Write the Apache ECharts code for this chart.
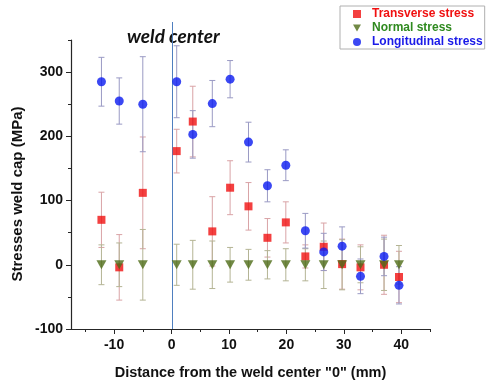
<!DOCTYPE html>
<html>
<head>
<meta charset="utf-8">
<script src="https://cdn.jsdelivr.net/npm/echarts@6/dist/echarts.min.js"></script>
<style>
  html, body { margin: 0; padding: 0; background: #fff; }
  #chart { width: 487px; height: 387px; }
</style>
</head>
<body>
<div id="chart"></div>
<script>
// distance from weld center (mm)
const xPos = [-12.2, -9.1, -5.0, 0.9, 3.7, 7.1, 10.2, 13.4, 16.7, 19.9, 23.3, 26.5, 29.7, 32.9, 37.0, 39.6];

const transverse = [70, -4, 112, 177, 223, 52, 120, 91, 42, 66, 13, 28, 1, -4, 0, -19];
const transverseErr = [43, 51, 87, 34, 55, 54, 42, 37, 30, 32, 18, 37, 39, 35, 46, 40];

const normal = [0, 0, 0, 0, 0, 0, 0, 0, 0, 0, 0, 0, 0, 0, 0, 0];
const normalErr = [31, 34, 55, 32, 38, 37, 27, 24, 22, 25, 25, 37, 39, 28, 40, 30];

const longitudinal = [285, 255, 250, 285, 203, 251, 289, 191, 123, 155, 53, 20, 29, -18, 13, -32];
const longitudinalErr = [38, 36, 74, 56, 37, 36, 29, 31, 25, 24, 27, 29, 30, 27, 30, 29];

const xMajor = [-10, 0, 10, 20, 30, 40];
const xMinor = [-15, -5, 5, 15, 25, 35, 45];
const yMajor = [-100, 0, 100, 200, 300];
const yMinor = [-50, 50, 150, 250, 350];

const AXIS = "#262626";
const FONT = "Liberation Sans, Arial, sans-serif";

const pts = (vals) => xPos.map((x, i) => [x, vals[i]]);
const errPts = (vals, errs) => xPos.map((x, i) => [x, vals[i], errs[i]]);

/** barras de error verticales con tapas */
function errorSeries(vals, errs, color) {
  return {
    type: "custom",
    z: 1,
    silent: true,
    data: errPts(vals, errs),
    renderItem: (params, api) => {
      const x = api.value(0), v = api.value(1), e = api.value(2);
      const hi = api.coord([x, v + e]);
      const lo = api.coord([x, v - e]);
      const cap = 3;
      const style = { stroke: color, lineWidth: 1 };
      return {
        type: "group",
        children: [
          { type: "line", shape: { x1: hi[0], y1: hi[1], x2: lo[0], y2: lo[1] }, style },
          { type: "line", shape: { x1: hi[0] - cap, y1: hi[1], x2: hi[0] + cap, y2: hi[1] }, style },
          { type: "line", shape: { x1: lo[0] - cap, y1: lo[1], x2: lo[0] + cap, y2: lo[1] }, style },
        ],
      };
    },
  };
}

const chart = echarts.init(document.getElementById("chart"), null, { renderer: "canvas" });

const baseAxis = {
  type: "value",
  axisLine: { show: true, onZero: false, lineStyle: { color: AXIS, width: 1.2 } },
  splitLine: { show: false },
};

chart.setOption({
  animation: false,
  backgroundColor: "#fff",
  grid: { left: 71, right: 57, top: 40, bottom: 58 },
  xAxis: [
    {
      ...baseAxis,
      min: -17.5,
      max: 45,
      position: "bottom",
      axisTick: { show: true, length: 5, customValues: xMajor, lineStyle: { color: AXIS } },
      axisLabel: {
        customValues: xMajor,
        color: "#111",
        fontFamily: FONT,
        fontWeight: "bold",
        fontSize: 14,
        margin: 9,
      },
      name: 'Distance from the weld center "0" (mm)',
      nameLocation: "middle",
      nameGap: 36,
      nameTextStyle: { color: "#111", fontFamily: FONT, fontWeight: "bold", fontSize: 14.5 },
    },
    {
      type: "value",
      min: -17.5,
      max: 45,
      position: "bottom",
      offset: 0,
      axisLine: { show: false, onZero: false },
      splitLine: { show: false },
      axisLabel: { show: false },
      axisTick: { show: true, length: 3, customValues: xMinor, lineStyle: { color: AXIS } },
    },
  ],
  yAxis: [
    {
      ...baseAxis,
      min: -100,
      max: 350,
      position: "left",
      axisTick: { show: true, length: 5, customValues: yMajor, lineStyle: { color: AXIS } },
      axisLabel: {
        customValues: yMajor,
        color: "#111",
        fontFamily: FONT,
        fontWeight: "bold",
        fontSize: 14,
        margin: 8,
      },
    },
    {
      type: "value",
      min: -100,
      max: 350,
      position: "left",
      offset: 0,
      axisLine: { show: false, onZero: false },
      splitLine: { show: false },
      axisLabel: { show: false },
      axisTick: { show: true, length: 3, customValues: yMinor, lineStyle: { color: AXIS } },
    },
  ],
  legend: {
    orient: "vertical",
    left: 340,
    top: 6,
    padding: [2, 2, 1, 13],
    itemGap: 2,
    itemWidth: 8,
    itemHeight: 8,
    borderColor: "#b0b0b0",
    borderWidth: 1,
    textStyle: { fontFamily: FONT, fontWeight: "bold", fontSize: 12, padding: [0, 0, 0, 6] },
    data: [
      { name: "Transverse stress", icon: "rect", textStyle: { color: "#f01010" } },
      { name: "Normal stress", icon: "path://M0,0L10,0L5,9Z", textStyle: { color: "#2f8a1f" } },
      { name: "Longitudinal stress", icon: "circle", textStyle: { color: "#1a1ae8" } },
    ],
  },
  graphic: [
    {
      type: "text",
      left: 127,
      top: 27,
      style: {
        text: "weld center",
        fill: "#111",
        font: "italic bold 19px Lato, 'Open Sans', sans-serif",
      },
    },
    {
      // título del eje Y (un poco más abajo que el centro del eje, como el original)
      type: "text",
      x: 18,
      y: 194,
      rotation: Math.PI / 2,
      style: {
        text: "Stresses weld cap (MPa)",
        fill: "#111",
        font: "bold 15px " + FONT,
        align: "center",
        verticalAlign: "middle",
      },
    },
  ],
  series: [
    // línea vertical del centro de soldadura
    {
      type: "custom",
      z: 0,
      silent: true,
      data: [[0]],
      renderItem: (params, api) => {
        const top = api.coord([api.value(0), 350]);
        const bot = api.coord([api.value(0), -100]);
        const x = Math.round(top[0]) + 0.5; // línea nítida de 1px
        return {
          type: "line",
          shape: { x1: x, y1: top[1] - 18, x2: x, y2: bot[1] },
          style: { stroke: "#4f7fbf", lineWidth: 1 },
        };
      },
    },
    errorSeries(transverse, transverseErr, "#d9a3a6"),
    errorSeries(normal, normalErr, "#b4b494"),
    errorSeries(longitudinal, longitudinalErr, "#9a9ac4"),
    {
      name: "Transverse stress",
      type: "scatter",
      z: 3,
      symbol: "rect",
      symbolSize: 8,
      itemStyle: { color: "#f01010" },
      data: pts(transverse),
    },
    {
      name: "Normal stress",
      type: "scatter",
      z: 4,
      symbol: "path://M0,0L10,0L5,9Z",
      symbolSize: [10, 9],
      itemStyle: { color: "#4e6b16" },
      data: pts(normal),
    },
    {
      name: "Longitudinal stress",
      type: "scatter",
      z: 5,
      symbol: "circle",
      symbolSize: 9,
      itemStyle: { color: "#0a1af0" },
      data: pts(longitudinal),
    },
  ],
});
</script>
</body>
</html>
